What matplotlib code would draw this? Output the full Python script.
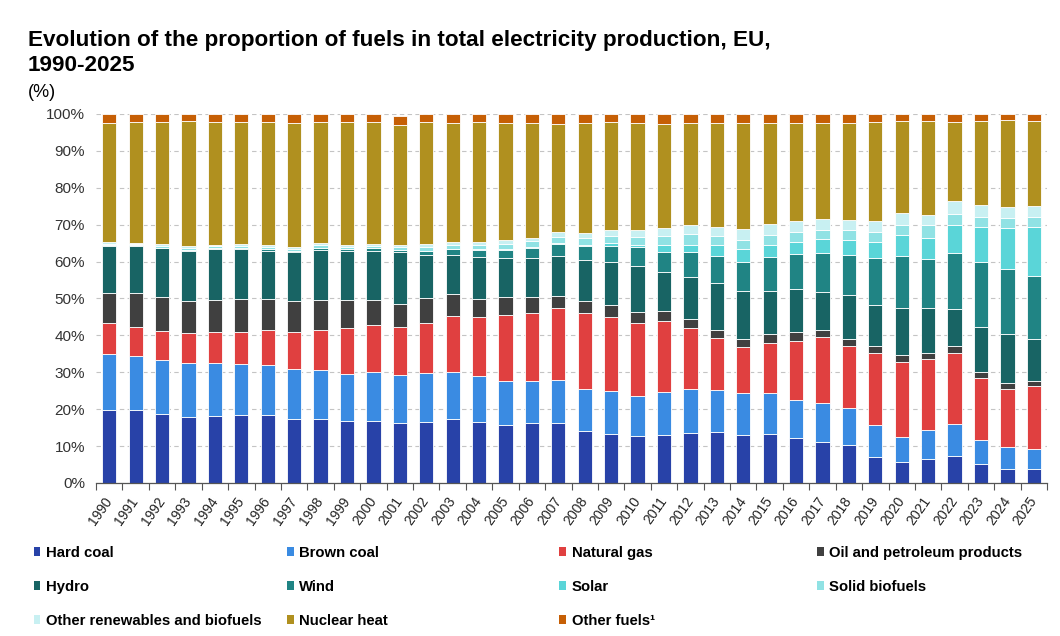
import matplotlib
matplotlib.use("Agg")
import matplotlib.pyplot as plt
import numpy as np
from matplotlib.patches import Patch
from matplotlib.ticker import FuncFormatter

plt.rcParams['font.family'] = ['Liberation Sans', 'DejaVu Sans']

years = [str(y) for y in range(1990, 2026)]

# shares in %
hard_coal = [19.7, 19.9, 18.7, 17.9, 18.2, 18.5, 18.5, 17.3, 17.3, 16.8,
             16.8, 16.2, 16.6, 17.3, 16.6, 15.8, 16.2, 16.2, 14.0, 13.3,
             12.7, 13.0, 13.5, 13.8, 13.0, 13.3, 12.2, 11.2, 10.2, 7.0,
             5.6, 6.6, 7.3, 5.1, 3.8, 3.8]
brown_coal = [15.2, 14.5, 14.6, 14.7, 14.4, 13.8, 13.5, 13.6, 13.2, 12.7,
              13.4, 13.0, 13.2, 12.8, 12.4, 11.9, 11.5, 11.8, 11.5, 11.6,
              10.9, 11.6, 12.0, 11.3, 11.4, 11.1, 10.3, 10.4, 10.1, 8.6,
              6.9, 7.8, 8.7, 6.5, 6.0, 5.4]
natural_gas = [8.4, 7.9, 7.9, 8.0, 8.3, 8.6, 9.4, 10.0, 10.9, 12.4,
               12.7, 13.1, 13.5, 15.2, 16.0, 17.8, 18.3, 19.3, 20.5, 20.1,
               19.7, 19.3, 16.6, 14.1, 12.5, 13.6, 16.0, 18.0, 16.7, 19.6,
               20.4, 19.3, 19.2, 16.8, 15.7, 17.0]
oil = [8.3, 9.1, 9.2, 8.6, 8.7, 8.9, 8.4, 8.3, 8.2, 7.7,
       6.7, 6.3, 6.8, 5.9, 4.8, 4.9, 4.4, 3.5, 3.3, 3.3,
       3.0, 2.7, 2.4, 2.3, 2.2, 2.3, 2.4, 1.9, 2.1, 1.8,
       1.8, 1.5, 2.0, 1.8, 1.7, 1.5]
hydro = [12.7, 12.9, 13.3, 13.8, 13.8, 13.6, 13.2, 13.3, 13.6, 13.2,
         13.4, 13.9, 11.6, 10.7, 11.4, 10.5, 10.5, 10.7, 11.1, 11.5,
         12.5, 10.5, 11.2, 12.7, 13.0, 11.6, 11.8, 10.2, 11.8, 11.3,
         12.6, 12.1, 9.9, 12.2, 13.1, 11.3]
wind = [0.1, 0.1, 0.1, 0.1, 0.2, 0.3, 0.3, 0.4, 0.5, 0.6,
        0.8, 0.7, 1.3, 1.5, 2.0, 2.3, 2.9, 3.3, 3.9, 4.5,
        5.1, 5.6, 6.8, 7.4, 7.7, 9.3, 9.3, 10.6, 10.8, 12.6,
        14.3, 13.3, 15.2, 17.4, 17.6, 17.1]
solar = [0.0, 0.0, 0.0, 0.0, 0.0, 0.0, 0.0, 0.0, 0.0, 0.0,
         0.0, 0.0, 0.0, 0.1, 0.1, 0.1, 0.2, 0.2, 0.3, 0.6,
         0.7, 1.8, 1.9, 2.8, 3.5, 3.2, 3.3, 3.8, 4.1, 4.4,
         5.5, 5.8, 7.7, 9.7, 11.1, 13.4]
solid_biofuels = [0.4, 0.3, 0.5, 0.5, 0.5, 0.6, 0.6, 0.6, 0.7, 0.5,
                  0.5, 0.7, 0.9, 1.1, 1.2, 1.5, 1.5, 1.6, 1.8, 2.1,
                  2.1, 2.4, 3.0, 2.5, 2.6, 2.7, 2.6, 2.4, 2.7, 2.8,
                  2.8, 3.4, 3.0, 2.7, 2.8, 2.5]
other_renewables = [0.4, 0.3, 0.5, 0.5, 0.5, 0.5, 0.5, 0.5, 0.5, 0.5,
                    0.4, 0.6, 0.8, 0.8, 0.9, 1.0, 0.9, 1.4, 1.3, 1.6,
                    1.9, 2.2, 2.4, 2.6, 2.9, 3.1, 3.1, 3.1, 2.8, 2.9,
                    3.2, 2.8, 3.3, 3.2, 3.1, 3.1]
nuclear = [32.3, 32.7, 32.9, 34.0, 33.1, 32.9, 33.3, 33.5, 32.8, 33.3,
           33.0, 32.6, 33.0, 32.2, 32.3, 31.8, 31.2, 29.3, 29.9, 29.1,
           29.0, 28.2, 27.8, 28.0, 28.7, 27.3, 26.5, 25.9, 26.2, 26.7,
           24.9, 25.4, 21.4, 22.6, 23.4, 22.9]
other_fuels = [2.5, 2.3, 2.3, 1.9, 2.3, 2.3, 2.3, 2.5, 2.3, 2.3,
               2.3, 2.4, 2.3, 2.4, 2.3, 2.4, 2.4, 2.7, 2.4, 2.3,
               2.4, 2.7, 2.4, 2.5, 2.5, 2.5, 2.5, 2.5, 2.5, 2.3,
               2.0, 2.0, 2.3, 2.0, 1.7, 2.0]

labels = ['Hard coal', 'Brown coal', 'Natural gas', 'Oil and petroleum products',
          'Hydro', 'Wind', 'Solar', 'Solid biofuels',
          'Other renewables and biofuels', 'Nuclear heat', 'Other fuels\u00b9']
series = [hard_coal, brown_coal, natural_gas, oil, hydro, wind, solar,
          solid_biofuels, other_renewables, nuclear, other_fuels]
colors = ['#2842a8', '#3a8be2', '#e04040', '#404040', '#186464', '#208484',
          '#5ad5d8', '#90e2e4', '#c8f0f2', '#b0901f', '#c65f05']

fig = plt.figure(figsize=(10.6, 6.36), dpi=100)
ax = fig.add_axes([0.0906, 0.2406, 0.8972, 0.5802])

x = np.arange(len(years))
bottom = np.zeros(len(years))
for vals, c, lab in zip(series, colors, labels):
    ax.bar(x, vals, 0.54, bottom=bottom, color=c, edgecolor='white',
           linewidth=0.6, label=lab, zorder=3)
    bottom += np.array(vals)

ax.set_xlim(-0.5, len(years) - 0.5)
ax.set_ylim(0, 100)
ax.set_yticks(np.arange(0, 101, 10))
ax.yaxis.set_major_formatter(FuncFormatter(lambda v, p: f'{v:.0f}%'))
ax.grid(axis='y', linestyle=(0, (4, 3)), color='#c4c4c4', linewidth=0.8, zorder=0)

ax.set_xticks(x)
ax.set_xticklabels(years, rotation=55, ha='right', va='center', rotation_mode='anchor')
ax.set_xticks(np.arange(-0.5, len(years)), minor=True)
ax.tick_params(axis='x', which='major', length=0, pad=11, labelsize=10, colors='#222222')
ax.tick_params(axis='x', which='minor', length=5, width=0.8, color='#555555')
ax.tick_params(axis='y', length=0, pad=8, labelsize=11, colors='#333333')

for s in ['top', 'right', 'left']:
    ax.spines[s].set_visible(False)
ax.spines['bottom'].set_color('#555555')
ax.spines['bottom'].set_linewidth(0.9)
ax.spines['bottom'].set_zorder(4)

fig.text(0.026, 0.927, 'Evolution of the proportion of fuels in total electricity production, EU,',
         fontsize=16.2, fontweight='bold', va='baseline')
fig.text(0.026, 0.888, '1990-2025', fontsize=16.2, fontweight='bold', va='baseline')
fig.text(0.026, 0.847, '(%)', fontsize=13, va='baseline')

# legend, row-wise order spread into four columns
handles = [Patch(facecolor=c, edgecolor='none') for c in colors]
col_x = [0.026, 0.265, 0.522, 0.765]
for k in range(4):
    idx = list(range(k, len(labels), 4))
    fig.legend([handles[i] for i in idx], [labels[i] for i in idx],
               loc='upper left', bbox_to_anchor=(col_x[k], 0.151), ncol=1,
               frameon=False, prop={'size': 10.7, 'weight': 'bold'},
               handlelength=0.45, handleheight=0.55, handletextpad=0.4,
               labelspacing=1.35, borderaxespad=0)

fig.savefig('out.png', dpi=100)
